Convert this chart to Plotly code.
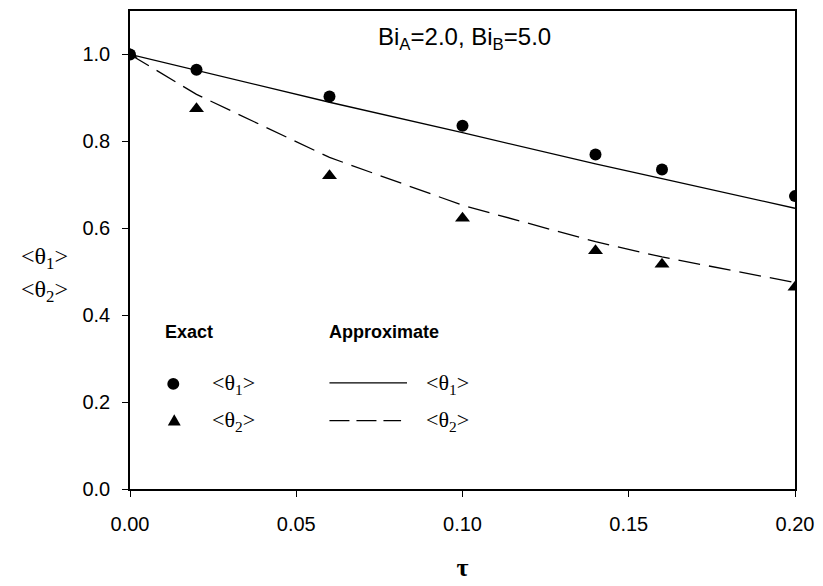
import plotly.graph_objects as go

# ---- data ----
tau_exact = [0.0, 0.02, 0.06, 0.10, 0.14, 0.16, 0.20]
theta1_exact = [1.0, 0.965, 0.903, 0.836, 0.770, 0.735, 0.674]
theta2_exact = [1.0, 0.875, 0.721, 0.623, 0.548, 0.517, 0.464]

tau_approx = [0.0, 0.02, 0.06, 0.10, 0.14, 0.16, 0.20]
theta1_approx = [1.0, 0.963, 0.890, 0.820, 0.748, 0.714, 0.646]
theta2_approx = [1.0, 0.908, 0.763, 0.653, 0.569, 0.534, 0.475]

x_ticks = [0.0, 0.05, 0.10, 0.15, 0.20]
x_tick_labels = ["0.00", "0.05", "0.10", "0.15", "0.20"]
y_ticks = [0.0, 0.2, 0.4, 0.6, 0.8, 1.0]
y_tick_labels = ["0.0", "0.2", "0.4", "0.6", "0.8", "1.0"]

SANS = "Liberation Sans, Arial, sans-serif"
SERIF = "Liberation Serif, Times New Roman, serif"

W, H = 823, 586
L, R, T, B = 129.5, 25, 9, 95
PW, PH = W - L - R, H - T - B


def px(x):
    return (x - L) / PW


def py(y):
    return (H - B - y) / PH


fig = go.Figure()
fig.add_trace(go.Scatter(x=tau_approx, y=theta1_approx, mode="lines",
                         line=dict(color="black", width=1.3), showlegend=False))
fig.add_trace(go.Scatter(x=tau_approx, y=theta2_approx, mode="lines",
                         line=dict(color="black", width=1.3, dash="22px,9px"), showlegend=False))
fig.add_trace(go.Scatter(x=tau_exact, y=theta2_exact, mode="markers",
                         marker=dict(symbol="triangle-up", size=13, color="black"), showlegend=False))
fig.add_trace(go.Scatter(x=tau_exact, y=theta1_exact, mode="markers",
                         marker=dict(symbol="circle", size=12, color="black"), showlegend=False))

th1 = "&lt;θ<sub>1</sub>&gt;"
th2 = "&lt;θ<sub>2</sub>&gt;"

ann = []
ann.append(dict(x=px(466), y=py(37), xref="paper", yref="paper",
                text="Bi<sub>A</sub>=2.0, Bi<sub>B</sub>=5.0", showarrow=False,
                font=dict(family=SANS, size=24, color="black"), xanchor="center", yanchor="middle"))
ann.append(dict(x=px(18), y=py(258), xref="paper", yref="paper", text=th1, showarrow=False,
                font=dict(family=SERIF, size=24, color="black"), xanchor="left", yanchor="middle"))
ann.append(dict(x=px(18), y=py(291), xref="paper", yref="paper", text=th2, showarrow=False,
                font=dict(family=SERIF, size=24, color="black"), xanchor="left", yanchor="middle"))
ann.append(dict(x=px(163), y=py(333), xref="paper", yref="paper", text="<b>Exact</b>", showarrow=False,
                font=dict(family=SANS, size=18, color="black"), xanchor="left", yanchor="middle"))
ann.append(dict(x=px(328), y=py(333), xref="paper", yref="paper", text="<b>Approximate</b>", showarrow=False,
                font=dict(family=SANS, size=18, color="black"), xanchor="left", yanchor="middle"))
for xx, yy, t in [(210, 385, th1), (210, 422, th2), (425, 385, th1), (425, 422, th2)]:
    ann.append(dict(x=px(xx), y=py(yy), xref="paper", yref="paper", text=t, showarrow=False,
                    font=dict(family=SERIF, size=22, color="black"), xanchor="left", yanchor="middle"))

shapes = []
r = 6
shapes.append(dict(type="circle", xref="paper", yref="paper",
                   x0=px(173 - r), x1=px(173 + r), y0=py(385 + r), y1=py(385 - r),
                   fillcolor="black", line=dict(color="black", width=0)))
cx, cy = 174, 422
shapes.append(dict(type="path", xref="paper", yref="paper",
                   path=f"M {px(cx-6.5)},{py(cy+5)} L {px(cx+6.5)},{py(cy+5)} L {px(cx)},{py(cy-6.5)} Z",
                   fillcolor="black", line=dict(color="black", width=0)))
shapes.append(dict(type="line", xref="paper", yref="paper", x0=px(330), x1=px(408), y0=py(384), y1=py(384),
                   line=dict(color="black", width=1.3)))
shapes.append(dict(type="line", xref="paper", yref="paper", x0=px(330), x1=px(402), y0=py(422), y1=py(422),
                   line=dict(color="black", width=1.3, dash="20px,7px")))

fig.update_layout(
    width=W, height=H,
    margin=dict(l=L, r=R, t=T, b=B, pad=0),
    paper_bgcolor="white", plot_bgcolor="white",
    annotations=ann, shapes=shapes,
    showlegend=False,
    xaxis=dict(range=[0, 0.2], tickvals=x_ticks, ticktext=x_tick_labels,
               showgrid=False, zeroline=False, showline=True, mirror=True,
               linecolor="black", linewidth=1.5, ticks="outside", ticklen=6, tickwidth=1,
               tickcolor="black", ticklabelstandoff=10,
               tickfont=dict(family=SANS, size=20, color="black"),
               title=dict(text="<b>τ</b>", font=dict(family=SERIF, size=26, color="black"), standoff=24)),
    yaxis=dict(range=[0, 1.1], tickvals=y_ticks, ticktext=y_tick_labels,
               showgrid=False, zeroline=False, showline=True, mirror=True,
               linecolor="black", linewidth=1.5, ticks="outside", ticklen=6, tickwidth=1,
               tickcolor="black", ticklabelstandoff=8,
               tickfont=dict(family=SANS, size=20, color="black")),
)

fig.write_html("out.html")
